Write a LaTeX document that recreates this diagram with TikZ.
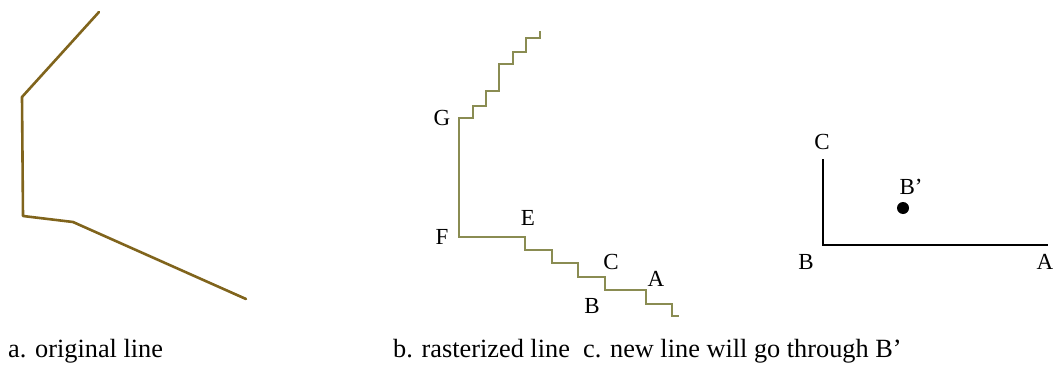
\documentclass[tikz,border=0pt]{standalone}
\usepackage{fontspec}
\setmainfont{Liberation Serif}
\definecolor{origline}{RGB}{128,100,28}
\definecolor{rastline}{RGB}{138,140,82}
\tikzset{
  lbl/.style={inner sep=0pt, font=\fontsize{23}{26}\selectfont},
  captext/.style={inner sep=0pt, anchor=base west, font=\fontsize{26.3}{29}\selectfont},
  original/.style={draw=origline, line width=2.6pt, line join=round, line cap=round},
  raster/.style={draw=rastline, line width=1.8pt, line join=miter},
  plain/.style={draw=black, line width=1.4pt},
}
\begin{document}
\begin{tikzpicture}[x=1pt, y=-1pt]
\useasboundingbox (0,0) rectangle (1057,367);

% (a) the original polyline
\coordinate (a1) at (99,12);
\coordinate (a2) at (22,97);
\coordinate (a3) at (23,216);
\coordinate (a4) at (73,222);
\coordinate (a5) at (246,299);
\draw[original] (a1) -- (a2) -- (a3) -- (a4) -- (a5);

% (b) the same line after rasterization
\coordinate (bTop) at (540,31);
\coordinate (bG)   at (459,118);
\coordinate (bF)   at (459,237);
\coordinate (bE)   at (525,237);
\coordinate (bC)   at (605,277);
\coordinate (bB)   at (605,290);
\coordinate (bA)   at (646,290);
\coordinate (bEnd) at (679,316);
\draw[raster] (bTop) -- (540,38) -- (526,38) -- (526,52) -- (513,52) -- (513,64)
  -- (499,64) -- (499,91) -- (486,91) -- (486,106) -- (473,106) -- (473,118)
  -- (bG) -- (bF) -- (bE) -- (525,250) -- (552,250) -- (552,263) -- (578,263)
  -- (578,277) -- (bC) -- (bB) -- (bA) -- (646,304) -- (672,304) -- (672,316)
  -- (bEnd);
\node[lbl] (labG) at (442,118) {G};
\node[lbl] (labF) at (442,237) {F};
\node[lbl] (labE) at (528,218) {E};
\node[lbl] (labC) at (611,262) {C};
\node[lbl] (labA) at (656,279) {A};
\node[lbl] (labB) at (592,306) {B};

% (c) corner B between A and C, and the point B'
\coordinate (cC) at (823,159);
\coordinate (cB) at (823,245);
\coordinate (cA) at (1048,245);
\draw[plain] (cC) -- (cB) -- (cA);
\node[lbl] (labCc) at (822,142) {C};
\node[lbl] (labBc) at (806,262) {B};
\node[lbl] (labAc) at (1045,262) {A};
\node[lbl] (labBp) at (911,187) {B’};
\node[circle, fill=black, inner sep=0pt, minimum size=12pt] (bprime) at (903,208) {};

% captions
\node[captext] (capA) at (8,357) {a. original line};
\node[captext] (capB) at (393,357) {b. rasterized line\ \ c. new line will go through B’};
\end{tikzpicture}
\end{document}
